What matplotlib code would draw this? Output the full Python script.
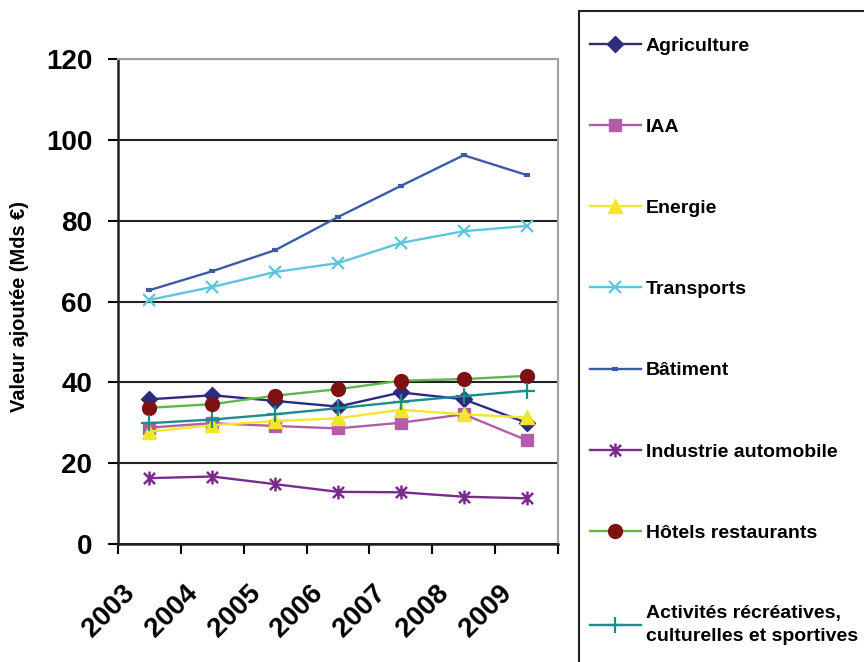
import numpy as np
import matplotlib
matplotlib.use('Agg')
import matplotlib.pyplot as plt
from matplotlib.path import Path
from matplotlib.patches import Rectangle

plt.rcParams['font.family'] = ['Liberation Sans', 'DejaVu Sans']

# data (Mds EUR)
years = ['2003', '2004', '2005', '2006', '2007', '2008', '2009']
agriculture = [35.8, 36.8, 35.4, 34.0, 37.5, 35.8, 30.0]
iaa         = [28.8, 29.9, 29.2, 28.6, 30.0, 32.1, 25.7]
energie     = [27.8, 29.4, 30.4, 31.1, 33.2, 32.1, 31.3]
transports  = [60.4, 63.6, 67.3, 69.5, 74.5, 77.4, 78.7]
batiment    = [62.8, 67.5, 72.7, 80.9, 88.6, 96.2, 91.3]
industrie   = [16.3, 16.7, 14.8, 12.9, 12.8, 11.7, 11.3]
hotels      = [33.7, 34.6, 36.7, 38.3, 40.4, 40.8, 41.6]
activites   = [29.9, 30.8, 32.1, 33.6, 35.2, 36.6, 37.9]

# asterisk marker: vertical bar + two diagonals
star = Path([(0, -1), (0, 1), (-0.8, -0.8), (0.8, 0.8), (-0.8, 0.8), (0.8, -0.8)],
            [Path.MOVETO, Path.LINETO, Path.MOVETO, Path.LINETO, Path.MOVETO, Path.LINETO])

x = np.arange(len(years))

fig = plt.figure(figsize=(8.64, 6.62), dpi=100)
ax = fig.add_axes([118/864, 1-544/662, 440/864, 485/662])

lw = 1.7
ax.plot(x, agriculture, color='#2E2A7E', lw=lw, marker='D', ms=8, label='Agriculture')
ax.plot(x, iaa, color='#B35DAA', lw=lw, marker='s', ms=9, label='IAA')
ax.plot(x, energie, color='#F2E628', lw=lw, marker='^', ms=10, label='Energie')
ax.plot(x, transports, color='#5CC6DC', lw=lw, marker='x', ms=9, mew=1.6, label='Transports')
ax.plot(x, batiment, color='#3B5BAA', lw=lw, marker='_', ms=5, mew=3, label='Bâtiment')
ax.plot(x, industrie, color='#7A2A8C', lw=lw, marker=star, ms=10, mew=1.8, label='Industrie automobile')
ax.plot(x, hotels, color='#5DB848', lw=lw, marker='o', ms=10, mfc='#7E1212', mec='#7E1212',
        label='Hôtels restaurants')
ax.plot(x, activites, color='#1F8C8C', lw=lw, marker='+', ms=11, mew=1.6,
        label='Activités récréatives,\nculturelles et sportives')

ax.set_xlim(-0.5, 6.5)
ax.set_ylim(0, 120)
ax.set_yticks(np.arange(0, 121, 20))
ax.yaxis.grid(True, color='#222222', lw=1.5)
ax.set_axisbelow(True)

# tick marks on category boundaries, labels slightly left of the centres
ax.set_xticks(x - 0.15)
ax.set_xticklabels(years, rotation=45, ha='right', fontsize=20, fontweight='bold')
ax.set_xticks(np.arange(-0.5, 7), minor=True)
ax.tick_params(axis='x', which='major', length=0, pad=26)
ax.tick_params(axis='x', which='minor', length=7.5, width=1.5, direction='out')
ax.tick_params(axis='y', length=7.5, width=1.5, direction='out', pad=11, labelsize=20)
for t in ax.get_yticklabels():
    t.set_fontweight('bold')

for s in ['left', 'bottom']:
    ax.spines[s].set_linewidth(1.8)
    ax.spines[s].set_color('#222222')
for s in ['top', 'right']:
    ax.spines[s].set_linewidth(1.5)
    ax.spines[s].set_color('#A0A0A0')

fig.text(20/864, 1-306/662, 'Valeur ajoutée (Mds €)', rotation=90, ha='center', va='center',
         fontsize=14.4, fontweight='bold')

# legend box, cut by the figure edge
fig.patches.append(Rectangle((579/864, -0.1), 0.5, 1.1 - 11/662, transform=fig.transFigure,
                             fill=False, edgecolor='#222222', lw=1.5))
leg = fig.legend(loc='upper left', bbox_to_anchor=(590/864, 1-37/662), frameon=False,
                 prop={'size': 14, 'weight': 'bold'}, handlelength=2.6, handletextpad=0.26,
                 labelspacing=3.27, borderpad=0, borderaxespad=0)
leg.get_texts()[-1].set_linespacing(1.45)

fig.savefig('out.png', dpi=100)
